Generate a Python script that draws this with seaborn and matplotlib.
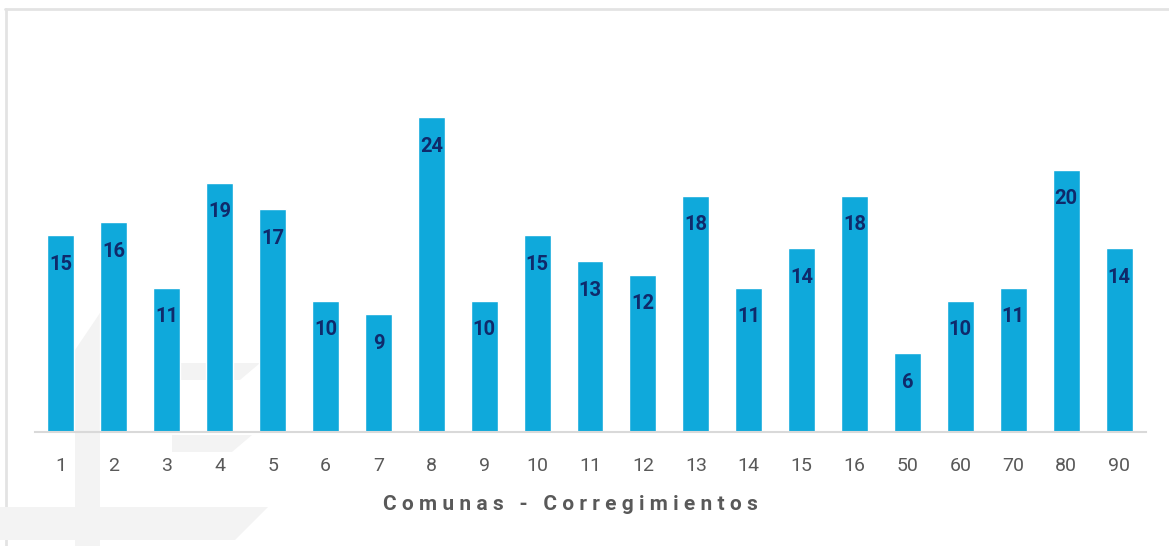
import numpy as np
import pandas as pd
import matplotlib
matplotlib.use('Agg')
import matplotlib.pyplot as plt
from matplotlib.patches import Polygon
from matplotlib.lines import Line2D
import seaborn as sns

comunas = ['1', '2', '3', '4', '5', '6', '7', '8', '9', '10', '11', '12',
           '13', '14', '15', '16', '50', '60', '70', '80', '90']
casos = [15, 16, 11, 19, 17, 10, 9, 24, 10, 15, 13, 12,
         18, 11, 14, 18, 6, 10, 11, 20, 14]

df = pd.DataFrame({'comuna': comunas, 'casos': casos})

sns.set_theme(style='white')
plt.rcParams['font.family'] = ['Roboto', 'DejaVu Sans']

W, H = 1169, 546
fig = plt.figure(figsize=(W / 100, H / 100), dpi=100)
fig.patch.set_facecolor('white')


def px(x, y):
    return (x / W, 1 - y / H)


# faint watermark in the background
wm = '#F3F3F3'
shapes = [
    [(75, 350), (100, 313), (100, 546), (75, 546)],
    [(0, 507), (268, 507), (235, 540), (0, 540)],
    [(180, 363), (260, 363), (240, 380), (180, 380)],
    [(172, 435), (252, 435), (232, 452), (172, 452)],
]
for s in shapes:
    fig.patches.append(Polygon([px(*p) for p in s], closed=True,
                               transform=fig.transFigure, facecolor=wm,
                               edgecolor='none', zorder=-1))

# thin frame at top and left
fig.lines.append(Line2D([5 / W, 1], [1 - 9 / H, 1 - 9 / H], transform=fig.transFigure,
                        color='#E3E3E3', linewidth=2, zorder=-1))
fig.lines.append(Line2D([6 / W, 6 / W], [0, 1 - 9 / H], transform=fig.transFigure,
                        color='#E3E3E3', linewidth=2, zorder=-1))

unit = 13.125
ytop = 26
ax = fig.add_axes([34.5 / W, 114 / H, 1111 / W, ytop * unit / H])
ax.set_zorder(2)
ax.patch.set_alpha(0)

sns.barplot(data=df, x='comuna', y='casos', color='#0FA9DB', width=0.51,
            saturation=1, ax=ax)

for i, v in enumerate(casos):
    ax.annotate(str(v), (i, v), xytext=(0, -21), textcoords='offset points',
                ha='center', va='center', fontsize=14.5, fontweight='bold',
                color='#0F2A6B')

ax.set_ylim(0, ytop)
ax.set_xlim(-0.5, len(comunas) - 0.5)
ax.set_yticks([])
ax.set_ylabel('')
ax.set_xlabel('')
for side in ['top', 'right', 'left']:
    ax.spines[side].set_visible(False)
ax.spines['bottom'].set_color('#D9D9D9')
ax.spines['bottom'].set_linewidth(1.5)
ax.tick_params(axis='x', length=0, pad=18, labelsize=14, labelcolor='#595959')

fig.text(570 / W, 1 - 505 / H, ' '.join('Comunas - Corregimientos'),
         ha='center', va='center', fontsize=15, fontweight='bold',
         color='#595959')

fig.savefig('out.png', dpi=100)
